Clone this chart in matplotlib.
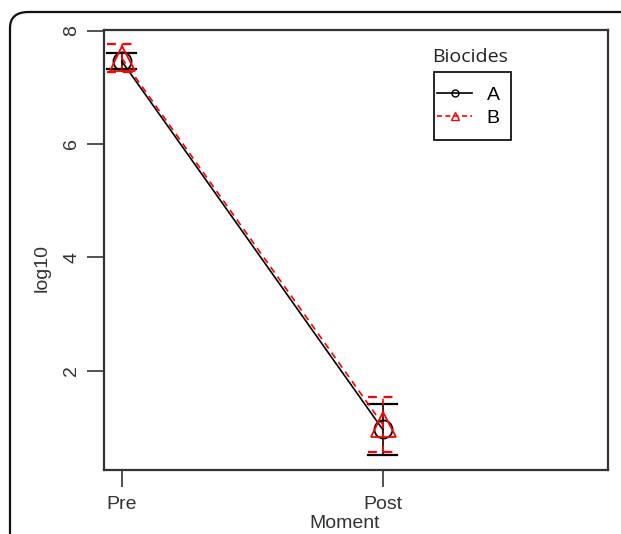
import matplotlib
matplotlib.use('Agg')
import matplotlib.pyplot as plt
from matplotlib.lines import Line2D
from matplotlib.patches import FancyBboxPatch, Rectangle

# Data
moments = ['Pre', 'Post']
mean_a = [7.46, 0.965]
low_a = [7.32, 0.51]
high_a = [7.60, 1.42]
mean_b = [7.515, 1.055]
low_b = [7.27, 0.57]
high_b = [7.76, 1.54]

plt.rcParams['font.family'] = ['Liberation Sans', 'DejaVu Sans']

W, H = 621, 534
fig = plt.figure(figsize=(W / 100, H / 100), dpi=100)

# outer rounded frame
frame = FancyBboxPatch((10 / W, -0.2), 1.2, (H - 12) / H + 0.2,
                       boxstyle='round,pad=0,rounding_size=0.03',
                       transform=fig.transFigure, fill=False,
                       edgecolor='#111111', linewidth=1.6)
fig.patches.append(frame)

left, right, top, bottom = 104, 608, 30, 470
ax = fig.add_axes([left / W, (H - bottom) / H, (right - left) / W, (bottom - top) / H])

x = [1, 2]
cap = 0.055

def draw_series(means, lows, highs, color, ls, marker, ms):
    ax.plot(x, means, color=color, linestyle=ls, linewidth=1.2, zorder=3)
    for xi, lo, hi in zip(x, lows, highs):
        ax.plot([xi, xi], [lo, hi], color=color, linestyle=ls, linewidth=1.2, zorder=3)
        ax.plot([xi - cap, xi + cap], [lo, lo], color=color, linestyle=ls, linewidth=1.6, zorder=3)
        ax.plot([xi - cap, xi + cap], [hi, hi], color=color, linestyle=ls, linewidth=1.6, zorder=3)
    ax.plot(x, means, linestyle='none', marker=marker, markersize=ms,
            markerfacecolor='none', markeredgecolor=color, markeredgewidth=1.3, zorder=4)

draw_series(mean_a, low_a, high_a, 'black', '-', 'o', 13)
draw_series(mean_b, low_b, high_b, 'red', (0, (4, 3)), '^', 18)

ax.set_xlim(0.932, 2.864)
ax.set_ylim(0.247, 8.01)
ax.set_xticks(x)
ax.set_xticklabels(moments)
ax.set_yticks([2, 4, 6, 8])
ax.tick_params(axis='both', length=12, width=1.2, color='#333333', labelsize=14,
               labelcolor='#333333')
ax.tick_params(axis='x', pad=7)
ax.tick_params(axis='y', pad=5)
for lbl in ax.get_yticklabels():
    lbl.set_rotation(90)
    lbl.set_va('center')
for s in ax.spines.values():
    s.set_linewidth(1.6)
    s.set_color('#333333')

ax.set_ylabel('log10', fontsize=14, color='#333333')
ax.yaxis.set_label_coords((42 - left) / (right - left), (bottom - 268) / (bottom - top))
ax.yaxis.label.set_va('center')
ax.set_xlabel('Moment', fontsize=14, color='#333333')
ax.xaxis.set_label_coords((345 - left) / (right - left), -(524 - bottom) / (bottom - top))
ax.xaxis.label.set_va('center')

# legend: box drawn by hand, entries from ax.legend
ax.add_patch(Rectangle((434 / W, (H - 140) / H), 77 / W, 68 / H,
                       transform=fig.transFigure, fill=True, facecolor='white',
                       edgecolor='black', linewidth=1.2, zorder=5, clip_on=False))
handles = [
    Line2D([0], [0], color='black', linewidth=1.2, marker='o', markersize=5,
           markerfacecolor='none', markeredgecolor='black'),
    Line2D([0], [0], color='red', linewidth=1.2, linestyle=(0, (3, 2)), marker='^',
           markersize=6, markerfacecolor='none', markeredgecolor='red'),
]
leg = ax.legend(handles, ['A', 'B'], loc='center left',
                bbox_to_anchor=(437 / W, (H - 106.5) / H), bbox_transform=fig.transFigure,
                frameon=False, fontsize=14,
                handlelength=1.8, handletextpad=0.75, labelspacing=0.25,
                borderpad=0, borderaxespad=0)
leg.set_zorder(6)
fig.text(470 / W, (H - 57) / H, 'Biocides', fontsize=14, family=['Open Sans', 'DejaVu Sans'],
         ha='center', va='center', color='#222222')

fig.savefig('out.png', dpi=100)
